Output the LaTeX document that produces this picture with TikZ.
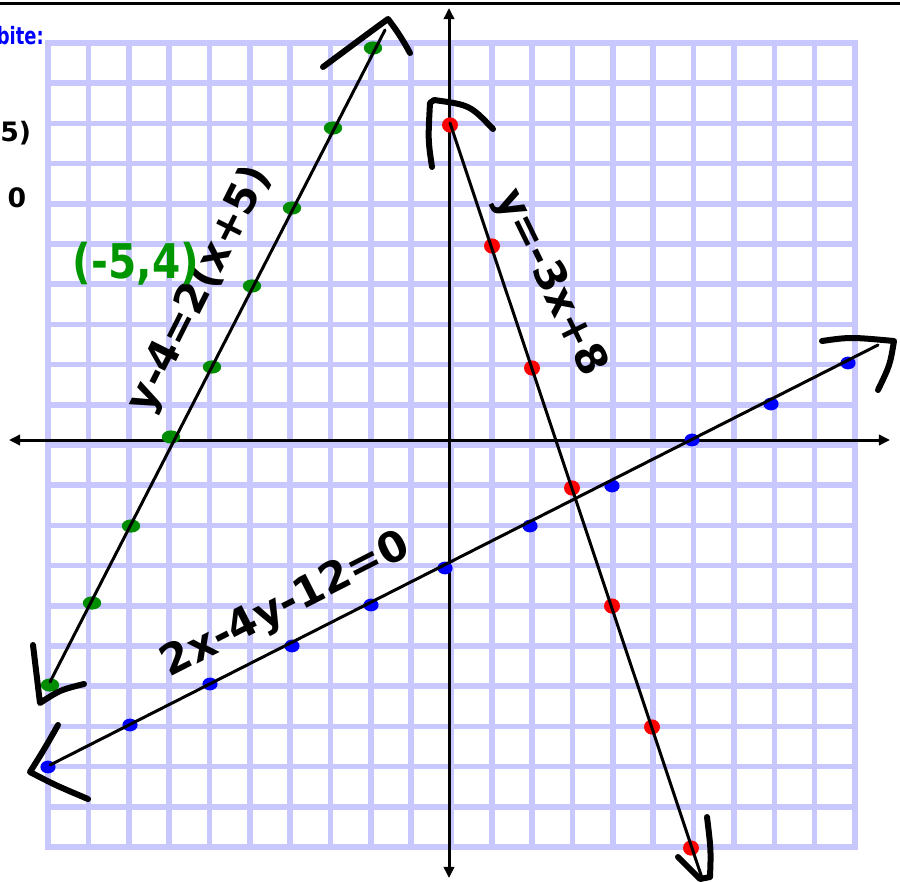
\documentclass[tikz,border=0pt]{standalone}
\usepackage{fontspec}
\setmainfont{DejaVu Sans}
\usetikzlibrary{arrows.meta,shapes.geometric}
\definecolor{gridc}{RGB}{200,200,255}
\definecolor{gdot}{RGB}{0,140,0}
\definecolor{bdot}{RGB}{0,0,255}
\definecolor{rdot}{RGB}{255,0,0}
\definecolor{labgreen}{RGB}{0,150,0}
\definecolor{labblue}{RGB}{0,0,255}
\begin{document}
\begin{tikzpicture}[x=0.025cm,y=-0.025cm,
  gridline/.style={draw=gridc,line width=0.14cm},
  axisline/.style={line width=0.075cm,{Triangle[length=0.28cm,width=0.26cm]}-{Triangle[length=0.28cm,width=0.26cm]}},
  graphline/.style={line width=0.075cm,line cap=round},
  hand/.style={line width=0.15cm,line cap=round,line join=round},
  gpt/.style={ellipse,fill=gdot,inner sep=0pt,minimum width=0.46cm,minimum height=0.33cm},
  bpt/.style={ellipse,fill=bdot,inner sep=0pt,minimum width=0.38cm,minimum height=0.32cm},
  rpt/.style={ellipse,fill=rdot,inner sep=0pt,minimum width=0.4cm,minimum height=0.38cm},
  hw/.style={inner sep=0pt,font=\bfseries\fontsize{30}{34}\selectfont},
  sidetxt/.style={inner sep=0pt,font=\bfseries\fontsize{19}{22}\selectfont}
]
\useasboundingbox (0,0) rectangle (900,881);
% top rule
\draw[line width=0.05cm] (0,3.5) -- (900,3.5);
% side texts
\node[sidetxt,text=labblue,anchor=east,xscale=0.75,font=\bfseries\fontsize{17}{20}\selectfont] (t1) at (44,36) {bite:};
\node[sidetxt,anchor=west] (t2) at (0,133) {5)};
\node[sidetxt] (t3) at (17,198) {0};
% grid
\foreach \k in {0,...,20} {
  \draw[gridline] ({48+40.35*\k},40) -- ({48+40.35*\k},850);
  \draw[gridline] (45,{43+40.2*\k}) -- (858,{43+40.2*\k});
}
% axes
\coordinate (xL) at (9,440);
\coordinate (xR) at (890,440);
\coordinate (yB) at (449,878);
\coordinate (yT) at (449,8);
\draw[axisline] (xL) -- (xR);
\draw[axisline] (yB) -- (yT);
% green dots
\foreach \n/\p in {1/{(50,685)},2/{(92,603)},3/{(131,526)},4/{(171,437)},5/{(212,367)},6/{(252,286)},7/{(292,208)},8/{(333,128)},9/{(373,48)}}
  \node[gpt] (g\n) at \p {};
% blue dots
\foreach \n/\p in {1/{(48,767)},2/{(130,725)},3/{(210,684)},4/{(292,646)},5/{(371,605)},6/{(445,568)},7/{(530,526)},8/{(612,486)},9/{(692,440)},10/{(771,404)},11/{(848,363)}}
  \node[bpt] (b\n) at \p {};
% red dots
\foreach \n/\p in {1/{(450,125)},2/{(492,246)},3/{(532,368)},4/{(572,488)},5/{(612,606)},6/{(652,727)},7/{(691,848)}}
  \node[rpt] (r\n) at \p {};
% graph lines
\coordinate (gS) at (50,682);
\coordinate (gE) at (385,30);
\coordinate (bS) at (50,765);
\coordinate (bE) at (878,345);
\coordinate (rS) at (450,123);
\coordinate (rE) at (702,878);
\draw[graphline] (gS) -- (gE);
\draw[graphline] (bS) -- (bE);
\draw[graphline] (rS) -- (rE);
% hand-drawn arrowheads
\draw[hand] (323,67) .. controls (350,47) and (370,32) .. (388,19) .. controls (398,32) and (404,42) .. (410,53);
\draw[hand] (33,645) .. controls (36,670) .. (40,703) .. controls (60,690) .. (84,684);
\draw[hand] (58,725) .. controls (45,748) .. (30,772) .. controls (55,785) .. (88,799);
\draw[hand] (822,341) .. controls (850,337) .. (894,341) .. controls (890,365) .. (878,390);
\draw[hand] (432,167) .. controls (428,140) .. (430,103) -- (434,100) .. controls (470,105) .. (493,129);
\draw[hand] (678,857) -- (700,879) -- (710,877) .. controls (711,850) .. (707,817);
% labels
\node[hw,rotate=63.3] (glab) at (200,290) {y-4=2(x+5)};
\node[hw,rotate=27] (blab) at (286,606) {2x-4y-12=0};
\node[hw,rotate=-64] (rlab) at (550,283) {y=-3x+8};
\node[hw,text=labgreen,font=\bfseries\fontsize{34}{38}\selectfont,xscale=0.85] (ptlab) at (136,264) {(-5,4)};
\end{tikzpicture}
\end{document}
